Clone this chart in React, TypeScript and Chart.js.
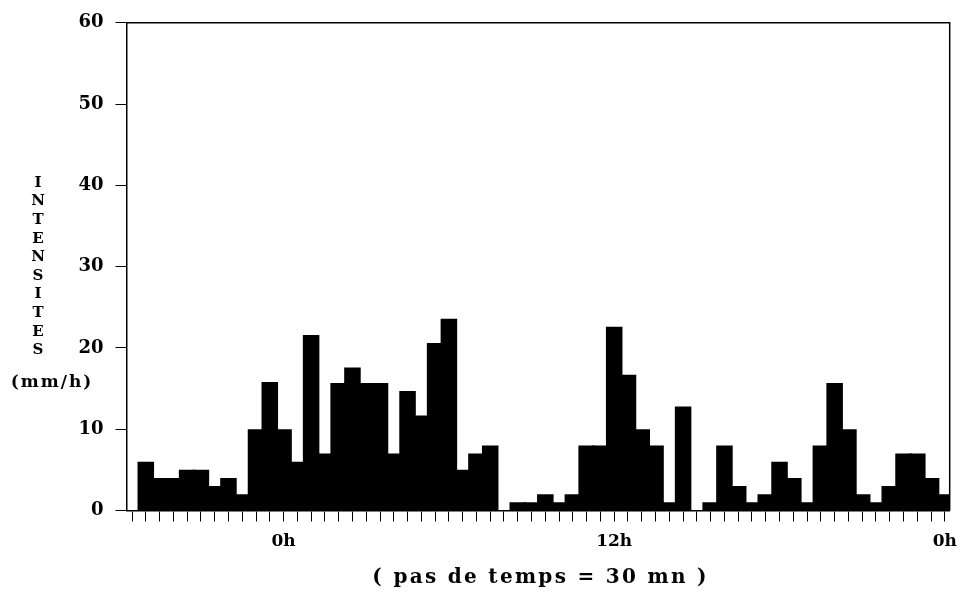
import React, { useEffect, useRef } from "react";
import { Chart, registerables } from "chart.js";

Chart.register(...registerables);

// Rain intensity (mm/h) per 30-minute time step; slot index = time step
const intensities: number[] = [
  0, 6, 4, 4, 5, 5, 3, 4, 2, 10,
  15.8, 10, 6, 21.6, 7, 15.7, 17.6, 15.7, 15.7, 7,
  14.7, 11.7, 20.6, 23.6, 5, 7, 8, 0, 1, 1,
  2, 1, 2, 8, 8, 22.6, 16.7, 10, 8, 1,
  12.8, 0, 1, 8, 3, 1, 2, 6, 4, 1,
  8, 15.7, 10, 2, 1, 3, 7, 7, 4, 2,
];

// Labelled time steps on the x axis
const labelSlots: number[] = [11, 35, 59];
const labelTexts: string[] = ["0h", "12h", "0h"];

// Y axis ticks
const yTicks: number[] = [0, 10, 20, 30, 40, 50, 60];

const yTitleLetters: string[] = ["I", "N", "T", "E", "N", "S", "I", "T", "E", "S"];
const yTitleUnit = "(mm/h)";
const xTitle = "( pas de temps = 30 mn )";

const SERIF = '"DejaVu Serif", serif';

const framePlugin = {
  id: "frame",
  afterDraw(chart: any) {
    const { ctx, chartArea } = chart;
    const { left, right, top, bottom } = chartArea;
    ctx.save();
    ctx.strokeStyle = "#000";
    ctx.lineWidth = 1.5;
    ctx.beginPath();
    ctx.moveTo(left, top);
    ctx.lineTo(right, top);
    ctx.lineTo(right, bottom);
    ctx.stroke();

    ctx.fillStyle = "#000";
    ctx.textAlign = "center";
    ctx.textBaseline = "middle";
    ctx.font = `bold 15px ${SERIF}`;
    yTitleLetters.forEach((ch, i) => ctx.fillText(ch, 38, 183 + i * 18.6));
    ctx.font = `bold 17px ${SERIF}`;
    (ctx as any).letterSpacing = "2px";
    ctx.fillText(yTitleUnit, 52, 383);
    ctx.font = `bold 20px ${SERIF}`;
    (ctx as any).letterSpacing = "2.3px";
    ctx.fillText(xTitle, (left + right) / 2 + 2.5, 578);
    ctx.restore();
  },
};

export default function App() {
  const canvasRef = useRef<HTMLCanvasElement | null>(null);

  useEffect(() => {
    document.body.style.margin = "0";
    const canvas = canvasRef.current;
    if (!canvas) return;
    const chart = new Chart(canvas, {
      type: "bar",
      data: {
        datasets: [
          {
            data: intensities.map((v, i) => ({ x: i, y: v })),
            backgroundColor: "#000",
            borderColor: "#000",
            borderWidth: 0,
            borderSkipped: false,
            inflateAmount: 0,
            barPercentage: 1.2,
            categoryPercentage: 1,
          } as any,
        ],
      },
      options: {
        animation: false,
        responsive: false,
        maintainAspectRatio: false,
        devicePixelRatio: 1,
        layout: {
          padding: { left: 0, top: 22.5, right: 7, bottom: 0 },
          autoPadding: false,
        },
        plugins: {
          legend: { display: false },
          tooltip: { enabled: false },
          title: { display: false },
        },
        scales: {
          x: {
            type: "linear",
            min: -0.4,
            max: 59.35,
            offset: false,
            afterBuildTicks: (s: any) => {
              s.ticks = intensities.map((_, i) => ({ value: i }));
            },
            afterFit: (s: any) => {
              s.height = 83.5;
            },
            grid: {
              offset: false,
              drawOnChartArea: false,
              drawTicks: true,
              tickLength: 11,
              tickColor: "#000",
              tickWidth: 1,
            },
            border: { display: true, color: "#000", width: 1.5 },
            ticks: {
              autoSkip: false,
              maxRotation: 0,
              minRotation: 0,
              padding: 10,
              color: "#000",
              font: { family: SERIF, size: 17, weight: "bold" },
              callback: (v: any) => {
                const k = labelSlots.indexOf(Number(v));
                return k >= 0 ? labelTexts[k] : "";
              },
            },
          } as any,
          y: {
            type: "linear",
            min: 0,
            max: 60,
            afterBuildTicks: (s: any) => {
              s.ticks = yTicks.map((v) => ({ value: v }));
            },
            afterFit: (s: any) => {
              s.width = 126.5;
            },
            grid: {
              drawOnChartArea: false,
              drawTicks: true,
              tickLength: 11,
              tickColor: "#000",
              tickWidth: 1,
            },
            border: { display: true, color: "#000", width: 1.5 },
            ticks: {
              padding: 12,
              color: "#000",
              font: { family: SERIF, size: 18, weight: "bold" },
              callback: (v: any) => String(v),
            },
          } as any,
        },
      },
      plugins: [framePlugin],
    });
    return () => chart.destroy();
  }, []);

  return (
    <div style={{ position: "fixed", left: 0, top: 0, width: 967, height: 594, background: "#fff" }}>
      <canvas ref={canvasRef} width={967} height={594} style={{ width: 967, height: 594 }} />
    </div>
  );
}
